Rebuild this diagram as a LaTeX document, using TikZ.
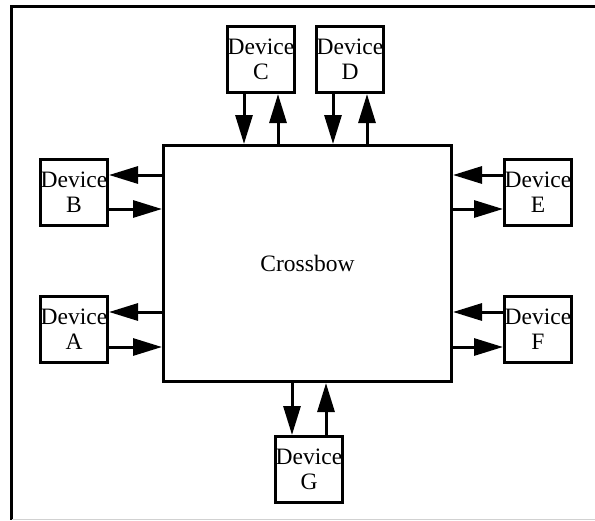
\documentclass[tikz,border=0pt]{standalone}
\usepackage{fontspec}
\setmainfont{Liberation Serif}
\usepackage{tikz}
\usetikzlibrary{arrows.meta, positioning}

\begin{document}
\begin{tikzpicture}[
    x=1pt, y=-1pt,
    device/.style={draw, line width=3pt, minimum width=67pt,
                   minimum height=66pt, inner sep=0pt, align=center,
                   font=\fontsize{23.5}{25}\selectfont},
    switchbox/.style={draw, line width=3pt, minimum width=288pt,
                      minimum height=236pt,
                      font=\fontsize{23.5}{25}\selectfont},
    arrow/.style={-{Triangle[length=29pt, width=17pt]}, line width=3pt},
]
\useasboundingbox (0,0) rectangle (595,520);
% Frame
\draw[line width=3pt] (595,6) -- (11,6) -- (11,520);
\draw[black!18, line width=1pt] (12,519) -- (595,519);

% Crossbow in the middle
\node[switchbox] (cross) at (307.5,263.5) {Crossbow};

% Devices round it
\node[device, above=50pt of cross.north, xshift=-46.5pt] (devC) {Device\\C};
\node[device, above=50pt of cross.north, xshift=42.5pt] (devD) {Device\\D};
\node[device, left=53pt of cross.west, yshift=71pt] (devB) {Device\\B};
\node[device, left=53pt of cross.west, yshift=-65.5pt] (devA) {Device\\A};
\node[device, right=50pt of cross.east, yshift=71pt] (devE) {Device\\E};
\node[device, right=50pt of cross.east, yshift=-65.5pt] (devF) {Device\\F};
\node[device, below=52pt of cross.south, xshift=1.5pt] (devG) {Device\\G};

% Top links
\draw[arrow] ([xshift=-17pt]devC.south) -- ([xshift=-17pt]devC.south |- cross.north);
\draw[arrow] ([xshift=17pt]devC.south |- cross.north) -- ([xshift=17pt]devC.south);
\draw[arrow] ([xshift=-17pt]devD.south) -- ([xshift=-17pt]devD.south |- cross.north);
\draw[arrow] ([xshift=17pt]devD.south |- cross.north) -- ([xshift=17pt]devD.south);

% Left links
\draw[arrow] ([yshift=17.5pt]devB.east -| cross.west) -- ([yshift=17.5pt]devB.east);
\draw[arrow] ([yshift=-16.5pt]devB.east) -- ([yshift=-16.5pt]devB.east -| cross.west);
\draw[arrow] ([yshift=17pt]devA.east -| cross.west) -- ([yshift=17pt]devA.east);
\draw[arrow] ([yshift=-18pt]devA.east) -- ([yshift=-18pt]devA.east -| cross.west);

% Right links
\draw[arrow] ([yshift=17.5pt]devE.west) -- ([yshift=17.5pt]devE.west -| cross.east);
\draw[arrow] ([yshift=-16.5pt]devE.west -| cross.east) -- ([yshift=-16.5pt]devE.west);
\draw[arrow] ([yshift=17pt]devF.west) -- ([yshift=17pt]devF.west -| cross.east);
\draw[arrow] ([yshift=-18pt]devF.west -| cross.east) -- ([yshift=-18pt]devF.west);

% Bottom links
\draw[arrow] ([xshift=-17pt]devG.north |- cross.south) -- ([xshift=-17pt]devG.north);
\draw[arrow] ([xshift=17pt]devG.north) -- ([xshift=17pt]devG.north |- cross.south);
\end{tikzpicture}
\end{document}
